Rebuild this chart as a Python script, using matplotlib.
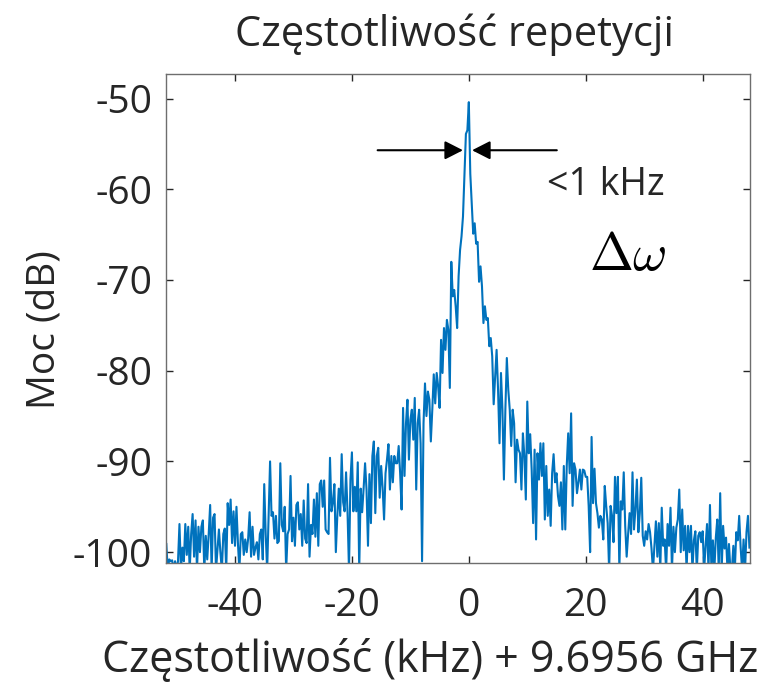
import numpy as np
import matplotlib
matplotlib.use("Agg")
from matplotlib import pyplot as plt

plt.rcParams['font.family'] = ['Open Sans', 'DejaVu Sans']
plt.rcParams['axes.unicode_minus'] = False
plt.rcParams['mathtext.fontset'] = 'cm'

# power spectrum (dB), 0.25 kHz steps in three pieces
start_a = -51.75
power_a = [-99.1, -102, -100.8, -101.0, -100.9, -102, -101.0, -102, -101.0, -96.9,
           -102, -99.5, -101.0, -96.9, -100.3, -97.2, -102, -98.0, -95.8, -100.5,
           -96.5, -102, -97.2, -100.0, -97.2, -96.5, -102, -98.2, -100.8, -98.0,
           -94.8, -102, -96.2, -95.8, -102, -99.8, -97.5, -100.0, -102, -98.0,
           -97.4, -102, -94.6, -97.0, -94.2, -99.0, -95.5, -99.3, -95.0, -99.0,
           -102, -98.0, -97.8, -100.3, -98.6, -100.0, -98.5, -95.6, -100.5, -97.2,
           -100.3, -99.5, -98.9, -100.8, -98.0, -97.5, -100.8, -92.5, -98.0, -102,
           -96.0, -90.0, -96.0, -95.6, -98.5, -96.0, -99.0, -98.8, -90.2, -97.0,
           -97.7, -95.0, -102, -98.0, -97.5, -91.6, -98.8, -96.2, -99.3, -94.8,
           -94.5, -97.5, -95.8, -99.3, -94.3, -98.5, -99.0, -92.5, -100.5, -97.0,
           -98.0, -94.2, -98.3, -93.5, -99.3, -92.5, -92.1, -95.0, -92.1, -97.5,
           -97.8, -98.0, -89.6, -95.5, -94.5, -92.5, -100.0, -96.0, -93.0, -96.0,
           -89.2, -94.5, -95.5, -91.2, -95.6, -102, -92.0, -89.0, -95.5, -92.8,
           -95.5, -90.1, -102, -93.0, -95.6, -93.0]

start_b = -17.75
power_b = [-90.2, -93.1, -99.3, -91.4, -96.8, -89.4, -87.8, -95.7, -89.4, -88.5,
           -94.0, -90.5, -92.9, -96.4, -91.3, -89.8, -88.1, -93.1, -89.4, -92.3,
           -89.4, -90.2, -90.2, -88.3, -91.3, -95.3, -84.1, -91.6, -85.8, -83.2,
           -89.8, -85.4, -84.3, -87.6, -83.0, -93.1, -85.8, -84.3, -88.0, -101.0,
           -85.8, -81.4, -85.0, -82.3, -83.2, -87.8, -84.3, -80.4, -83.6, -80.25,
           -81.7, -84.1, -76.6, -80.25, -75.3, -77.7, -74.4, -75.5, -81.9, -68.0,
           -71.8, -71.1, -72.9, -75.3, -69.6, -66.7, -65.2, -63.0, -58.3, -53.9,
           -53.5, -50.4, -58.3, -61.7, -64.9, -63.75, -66.0, -65.8, -70.2, -68.5,
           -70.7, -74.75, -72.9, -74.4, -74.2, -77.3, -76.4, -78.4, -83.7, -80.6,
           -77.7, -82.1, -88.0, -80.25, -84.3, -92.0, -84.3, -78.6, -82.1, -84.3,
           -88.3, -84.3, -85.8, -92.3, -87.6, -88.7, -89.1, -93.1, -86.9, -89.4,
           -94.2, -83.4, -89.1, -87.0, -90.9, -96.8, -88.7, -98.6, -89.1, -92.0,
           -88.0, -91.6, -88.0, -96.4, -90.5, -96.0, -93.1, -97.1, -91.3, -89.2,
           -92.3, -91.3, -93.8, -94.9, -92.3, -97.5, -90.5, -97.5, -90.5, -86.9,
           -91.3, -84.7, -94.9, -90.2, -90.9, -93.5, -92.3, -90.9, -93.1, -90.9]

start_c = 19.75
power_c = [-91.0, -91.7, -91.7, -94.9, -100.0, -87.3, -94.6, -90.8, -94.6, -95.7,
           -97.3, -96.0, -96.4, -98.6, -92.7, -94.9, -96.8, -102, -94.9, -96.0,
           -98.9, -91.7, -95.7, -91.7, -102, -94.4, -95.3, -91.2, -97.1, -100.5,
           -98.0, -95.7, -98.0, -91.2, -97.5, -95.3, -92.0, -97.8, -95.7, -91.8,
           -98.2, -99.3, -97.7, -98.6, -96.9, -97.8, -99.6, -102, -99.3, -96.6,
           -100.5, -96.8, -102, -95.1, -99.3, -98.6, -102, -96.9, -99.3, -95.1,
           -102, -97.2, -100.0, -97.3, -96.4, -93.1, -100.0, -95.3, -99.8, -97.1,
           -102, -97.1, -100.0, -97.1, -102, -98.7, -97.7, -102, -98.2, -97.8,
           -98.9, -97.7, -102, -99.3, -96.9, -102, -94.8, -102, -98.7, -102,
           -98.4, -96.4, -102, -93.5, -102, -97.1, -99.6, -98.4, -102, -99.1,
           -102, -102, -99.3, -102, -97.8, -98.7, -96.0, -99.5, -102, -98.6,
           -102, -97.8, -96.0, -99.5]

step = 0.25
freq = np.concatenate([start_a + step * np.arange(len(power_a)),
                       start_b + step * np.arange(len(power_b)),
                       start_c + step * np.arange(len(power_c))])
power = np.concatenate([power_a, power_b, power_c])

x_ticks = [-40, -20, 0, 20, 40]
y_ticks = [-100, -90, -80, -70, -60, -50]

fig = plt.figure(figsize=(7.74, 6.9), dpi=100)
ax = fig.add_axes([0.2145, 0.184, 0.7545, 0.7087])

ax.plot(freq, power, color='#0072BD', lw=1.5)

ax.set_xlim(-51.8, 48.1)
ax.set_ylim(-101.2, -47.3)
ax.set_xticks(x_ticks)
ax.set_yticks(y_ticks)

ax.tick_params(direction='in', length=5, width=1, colors='#262626', labelsize=28,
               top=True, right=True)
ax.tick_params(axis='x', pad=17)
ax.tick_params(axis='y', pad=10)
for s in ax.spines.values():
    s.set_color('#6e6e6e')
    s.set_linewidth(1.0)

# linewidth markers around the peak
arrow = dict(arrowstyle='-|>,head_length=0.55,head_width=0.28', color='black',
             lw=1.5, shrinkA=0, shrinkB=0, mutation_scale=20)
ax.annotate('', xy=(-1.0, -55.7), xytext=(-15.6, -55.7), arrowprops=arrow)
ax.annotate('', xy=(0.55, -55.7), xytext=(15.05, -55.7), arrowprops=arrow)

ax.text(23.4, -59.5, '<1 kHz', fontsize=27, color='#262626', ha='center', va='center')
ax.text(27.3, -67.4, r'$\Delta\omega$', fontsize=38, color='black', ha='center', va='center')

fig.text(455 / 774, 1 - 35 / 690, 'Częstotliwość repetycji', fontsize=30,
         color='#262626', ha='center', va='center')
fig.text(430 / 774, 1 - 660 / 690, 'Częstotliwość (kHz) + 9.6956 GHz', fontsize=31,
         color='#262626', ha='center', va='center')
fig.text(45 / 774, 1 - 330 / 690, 'Moc (dB)', fontsize=28, color='#262626',
         rotation=90, ha='center', va='center')

fig.savefig('out.png', dpi=100)
